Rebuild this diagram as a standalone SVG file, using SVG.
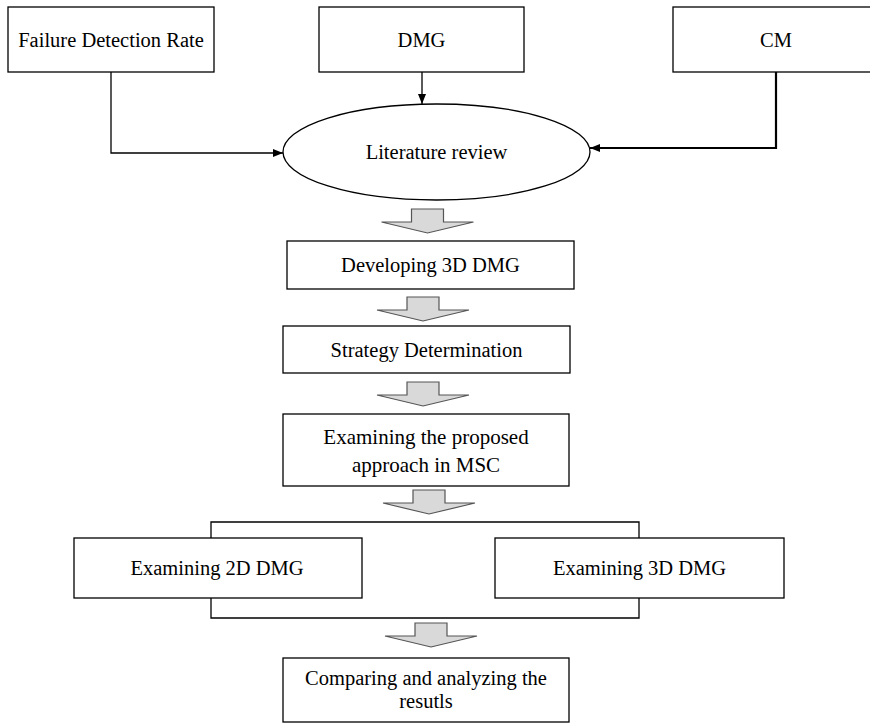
<svg xmlns="http://www.w3.org/2000/svg" width="870" height="724" viewBox="0 0 870 724">
<style>
.box{fill:#fff;stroke:#000;stroke-width:1.3}
.t{font-size:20.5px;fill:#000;text-anchor:middle}
.con{fill:none;stroke:#000;stroke-width:1.3}
.blk{fill:#d9d9d9;stroke:#555;stroke-width:1.2}
</style>
<defs>
<marker id="ah" viewBox="0 0 10 8" refX="10" refY="4" markerWidth="10" markerHeight="8" markerUnits="userSpaceOnUse" orient="auto">
<path d="M0,0 L10,4 L0,8 Z" fill="#000"/>
</marker>
<path id="ba" d="M-16,0 H16 V13 H46 L0,24 L-46,13 H-16 Z"/>
</defs>
<rect width="870" height="724" fill="#fff"/>
<g id="connectors">
<path class="con" d="M111,72 V153 H283" marker-end="url(#ah)"/>
<path class="con" d="M422,72 V104" marker-end="url(#ah)"/>
<path class="con" style="stroke-width:2.2" d="M776,72 V148 H590" marker-end="url(#ah)"/>
<path class="con" d="M211,538 V522 H639 V538 M211,598 V618 H639 V598"/>
<use href="#ba" class="blk" transform="translate(427.5,209)"/>
<use href="#ba" class="blk" transform="translate(423,297)"/>
<use href="#ba" class="blk" transform="translate(423,382)"/>
<use href="#ba" class="blk" transform="translate(429,490)"/>
<use href="#ba" class="blk" transform="translate(431,623)"/>
</g>
<g font-family="Liberation Serif, DejaVu Serif, serif">
<g id="fdr"><rect class="box" x="8" y="7" width="206" height="65"/><text class="t" x="111" y="47">Failure Detection Rate</text></g>
<g id="dmg"><rect class="box" x="319" y="7" width="205" height="65"/><text class="t" x="421.5" y="47">DMG</text></g>
<g id="cm"><rect class="box" x="673" y="7" width="206" height="65"/><text class="t" x="776" y="47">CM</text></g>
<g id="lit"><ellipse class="box" cx="436.5" cy="152" rx="153.5" ry="48"/><text class="t" x="436.5" y="159">Literature review</text></g>
<g id="dev"><rect class="box" x="287" y="241" width="287" height="48"/><text class="t" x="430.5" y="272">Developing 3D DMG</text></g>
<g id="strat"><rect class="box" x="283" y="326" width="287" height="47"/><text class="t" x="426.5" y="357">Strategy Determination</text></g>
<g id="exam"><rect class="box" x="283" y="414" width="286" height="72"/><text class="t" x="426" y="444" style="font-size:21px">Examining the proposed</text><text class="t" x="426" y="472" style="font-size:21px">approach in MSC</text></g>
<g id="ex2d"><rect class="box" x="74" y="538" width="288" height="60"/><text class="t" x="217" y="575">Examining 2D DMG</text></g>
<g id="ex3d"><rect class="box" x="495" y="538" width="289" height="60"/><text class="t" x="639.5" y="575">Examining 3D DMG</text></g>
<g id="cmp"><rect class="box" x="283" y="658" width="286" height="64"/><text class="t" x="426" y="685">Comparing and analyzing the</text><text class="t" x="426" y="708">resutls</text></g>
</g>
</svg>
